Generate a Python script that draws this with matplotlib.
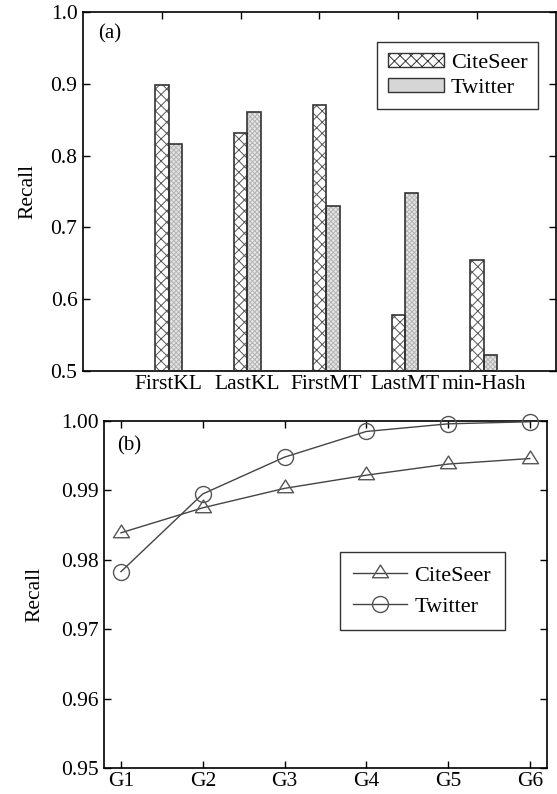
import matplotlib
matplotlib.use("Agg")
import matplotlib.pyplot as plt
import matplotlib.patches as mpatches
from matplotlib.path import Path as MPath
import numpy as np

# panel (a): bar chart
methods = ["FirstKL", "LastKL", "FirstMT", "LastMT", "min-Hash"]
bar_citeseer = [0.899, 0.831, 0.871, 0.578, 0.655]
bar_twitter = [0.817, 0.861, 0.730, 0.748, 0.523]

# panel (b): line chart
groups = ["G1", "G2", "G3", "G4", "G5", "G6"]
line_citeseer = [0.9839, 0.9875, 0.9903, 0.9922, 0.9938, 0.9946]
line_twitter = [0.9783, 0.9895, 0.9948, 0.9985, 0.9996, 0.9999]

plt.rcParams["font.family"] = ["Liberation Serif", "DejaVu Serif"]
plt.rcParams["hatch.linewidth"] = 0.7

DARK = "#333333"
GREY = "#555555"
TICK_FS = 15.5
LEG_FS = 16

fig = plt.figure(figsize=(5.57, 7.94), dpi=100)
ax_a = fig.add_axes([0.149, 0.5327, 0.849, 0.452])
ax_b = fig.add_axes([0.1867, 0.0327, 0.7953, 0.437])


def style_axes(ax):
    for sp in ax.spines.values():
        sp.set_linewidth(1.2)
        sp.set_color("black")
    ax.tick_params(which="major", direction="in", length=5, width=1,
                   top=True, right=True, bottom=True, left=True,
                   labelsize=TICK_FS, pad=4)


# ---- (a) ----
x = np.arange(1, len(methods) + 1)
w = 0.17
# citeseer: crosshatch
ax_a.bar(x, bar_citeseer, width=w, facecolor="white",
         edgecolor=GREY, hatch="xxx", linewidth=0, zorder=2)
ax_a.bar(x, bar_citeseer, width=w, facecolor="none", edgecolor=DARK,
         linewidth=1.2, zorder=3)
# twitter: fine light grey texture
ax_a.bar(x + w, bar_twitter, width=w, facecolor="#e6e6e6",
         edgecolor="#b4b4b4", hatch="xxxxxxx", linewidth=0, zorder=2)
ax_a.bar(x + w, bar_twitter, width=w, facecolor="none", edgecolor=DARK,
         linewidth=1.2, zorder=3)

ax_a.set_xlim(0, 6)
ax_a.set_ylim(0.5, 1.0)
ax_a.set_yticks([0.5, 0.6, 0.7, 0.8, 0.9, 1.0])
ax_a.set_yticklabels(["0.5", "0.6", "0.7", "0.8", "0.9", "1.0"])
ax_a.set_xticks(x)
ax_a.set_xticklabels([])
ax_a.set_xticks(x + w / 2, minor=True)
ax_a.set_xticklabels(methods, minor=True)
style_axes(ax_a)
ax_a.tick_params(axis="x", which="major", bottom=False)
ax_a.tick_params(axis="x", which="minor", length=0, labelsize=TICK_FS, pad=3)
ax_a.set_ylabel("Recall", fontsize=TICK_FS, labelpad=9)
ax_a.text(0.032, 0.94, "(a)", transform=ax_a.transAxes, fontsize=15,
          va="center", ha="left")

h1 = mpatches.Patch(facecolor="white", edgecolor=DARK, hatch="xxx", linewidth=1.0)
h2 = mpatches.Patch(facecolor="#d6d6d6", edgecolor=DARK, linewidth=1.0)
leg_a = ax_a.legend([h1, h2], ["CiteSeer", "Twitter"], loc="upper right",
                    bbox_to_anchor=(0.963, 0.918), fontsize=LEG_FS, frameon=True,
                    fancybox=False, edgecolor="black", handlelength=2.5,
                    handleheight=0.6, borderpad=0.5, labelspacing=0.25,
                    handletextpad=0.3, borderaxespad=0)
leg_a.get_frame().set_linewidth(1.0)

# ---- (b) ----
xg = np.arange(1, len(groups) + 1)
tri = MPath([(0, 0.667), (-0.63, -0.333), (0.63, -0.333), (0, 0.667)],
            [MPath.MOVETO, MPath.LINETO, MPath.LINETO, MPath.CLOSEPOLY])
ax_b.plot(xg, line_citeseer, color="#444444", linewidth=1.0, marker=tri,
          markersize=12.2, markerfacecolor="none", markeredgecolor=GREY,
          markeredgewidth=1.0, label="CiteSeer", zorder=3, clip_on=False)
ax_b.plot(xg, line_twitter, color="#444444", linewidth=1.0, marker="o",
          markersize=11.5, markerfacecolor="none", markeredgecolor=GREY,
          markeredgewidth=1.0, label="Twitter", zorder=3, clip_on=False)

ax_b.set_xlim(0.792, 6.21)
ax_b.set_ylim(0.95, 1.0)
ax_b.set_xticks(xg)
ax_b.set_xticklabels(groups)
ax_b.set_yticks([0.95, 0.96, 0.97, 0.98, 0.99, 1.00])
ax_b.set_yticklabels(["0.95", "0.96", "0.97", "0.98", "0.99", "1.00"])
style_axes(ax_b)
ax_b.tick_params(axis="x", pad=3)
ax_b.set_ylabel("Recall", fontsize=TICK_FS, labelpad=12)
ax_b.text(0.03, 0.928, "(b)", transform=ax_b.transAxes, fontsize=15,
          va="center", ha="left")

leg_b = ax_b.legend(loc="upper left", bbox_to_anchor=(0.533, 0.622),
                    fontsize=LEG_FS, frameon=True, fancybox=False,
                    edgecolor="black", handlelength=2.4, borderpad=0.6,
                    labelspacing=0.45, handletextpad=0.35, borderaxespad=0)
leg_b.get_frame().set_linewidth(1.0)

fig.savefig("out.png", dpi=100)
